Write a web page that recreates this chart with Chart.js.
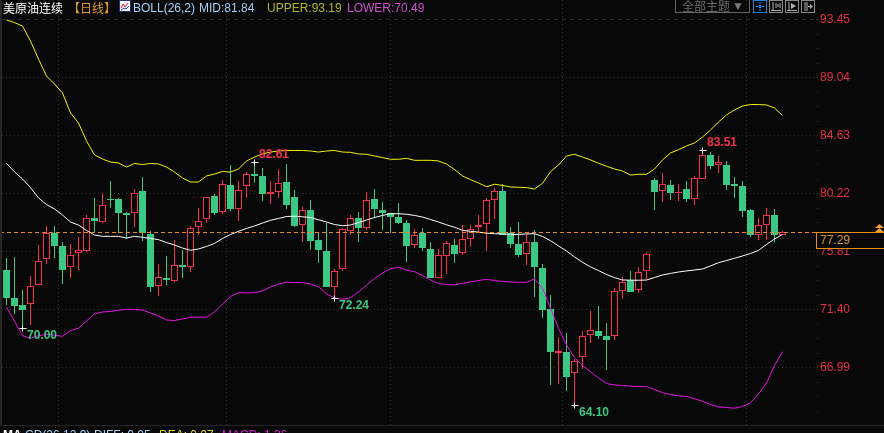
<!DOCTYPE html>
<html lang="zh">
<head>
<meta charset="UTF-8">
<title>美原油连续 日线</title>
<script src="https://cdn.jsdelivr.net/npm/chart.js"></script>
<style>
    html, body { margin: 0; padding: 0; background: #080808; overflow: hidden; }
    body { width: 884px; height: 433px; position: relative; font: 12px "Liberation Sans", "Noto Sans CJK SC", sans-serif; }
    canvas { position: absolute; left: 0; top: 0; }
    .t { position: absolute; white-space: nowrap; line-height: 14px; }
    .cjk { font-family: "Noto Sans CJK SC", sans-serif; }
    #edge { position: absolute; left: 0; top: 0; width: 2px; height: 425px; background: #262626; }
    #rule { position: absolute; left: 0; top: 425px; width: 884px; height: 1px; background: #262626; }
    #theme { position: absolute; left: 675px; top: -1px; width: 73px; height: 12px; border: 1px solid #666; color: #6c6c6c; }
    #lastbox { position: absolute; left: 816px; top: 232px; width: 68px; height: 15px; border: 1px solid #e8901c; border-right: 0; background: #080808; color: #c89a3c; line-height: 15px; padding-left: 3px; box-sizing: content-box; }
    svg { position: absolute; }
</style>
</head>
<body>
<canvas id="kline" width="884" height="433"></canvas>
<div id="edge"></div>
<div id="rule"></div>

<div class="t cjk" style="left:3px;top:1px;color:#ffffff">美原油连续</div>
<div class="t cjk" style="left:68px;top:1px;color:#e09a30">【日线】</div>
<svg style="left:119px;top:0" width="12" height="13"><rect x="0.5" y="0.5" width="11" height="11" fill="#f4f4f4" stroke="#20307a"/><polyline points="2,8 4,4 6,7 9,3" fill="none" stroke="#d02030"/><polyline points="2,10 5,8 7,9 10,6" fill="none" stroke="#2040c0"/></svg>
<div class="t" style="left:133px;top:1px;color:#a4d0f8">BOLL(26,2)</div>
<div class="t" style="left:199px;top:1px;color:#a4d0f8">MID:81.84</div>
<div class="t" style="left:267px;top:1px;color:#b4b428">UPPER:93.19</div>
<div class="t" style="left:347px;top:1px;color:#d050d0">LOWER:70.49</div>

<div id="theme"><span class="t cjk" style="left:6px;top:-1px">全部主题</span><span class="t" style="left:56px;top:-1px;color:#7a7a7a">▼</span></div>
<svg style="left:753px;top:0" width="14" height="13"><rect x="0.5" y="0.5" width="13" height="12" fill="none" stroke="#1a7fd0"/><path d="M7 2v2M7 9v2M3 6.5h2M9 6.5h2M6 5.5h2v2H6z" stroke="#1a8fe8" fill="none"/></svg>
<svg style="left:769px;top:0" width="14" height="13"><rect x="0.5" y="0.5" width="13" height="12" fill="none" stroke="#8a8a8a"/><path d="M4 2v8M2 10.5h10M7 3v5M9 4v3M11 3v5" stroke="#b0b0b0" fill="none"/></svg>
<svg style="left:785px;top:0" width="14" height="13"><rect x="0.5" y="0.5" width="13" height="12" fill="none" stroke="#8a8a8a"/><path d="M4 2v8M2 10.5h10" stroke="#b0b0b0" fill="none"/><path d="M6 3l5 3-5 3z" fill="#b0b0b0"/></svg>
<svg style="left:801px;top:0" width="14" height="13"><rect x="0.5" y="0.5" width="13" height="12" fill="none" stroke="#8a8a8a"/><path d="M4 2v9M6 2v9M7 6.5h4" stroke="#b0b0b0" fill="none"/><path d="M9 4l3 2.5-3 2.5z" fill="#b0b0b0"/></svg>

<div id="lastbox">77.29</div>
<svg style="left:875px;top:224px" width="9" height="9"><path d="M4.5 0L9 4H0z M4.5 4L9 8H0z" fill="#f0a030"/></svg>

<div class="t" style="left:3px;top:428px;color:#ffffff;font-weight:bold">MA</div>
<div class="t" style="left:25px;top:428px;color:#a4d0f8">CD(26,12,9)</div>
<div class="t" style="left:94px;top:428px;color:#a4d0f8">DIFF: 0.05</div>
<div class="t" style="left:159px;top:428px;color:#d8d820">DEA: 0.07</div>
<div class="t" style="left:222px;top:428px;color:#d020d0">MACD: 1.36</div>

<script>
// daily candles, oldest first
const opens = [74.39,72.26,71.73,71.78,73.22,75.20,77.20,76.21,74.59,75.65,
    75.86,78.34,78.06,79.78,79.76,78.72,78.70,80.39,77.12,73.15,
    73.78,73.53,74.74,74.64,77.63,78.24,80.01,78.82,80.85,79.05,
    80.80,81.69,81.53,80.14,80.34,81.08,79.94,77.83,78.95,76.67,
    75.83,73.12,74.49,77.38,78.31,77.57,79.75,78.94,78.74,78.41,
    77.93,76.30,77.19,75.95,73.80,75.47,76.28,75.70,76.76,77.67,
    77.85,79.72,80.38,77.17,76.35,75.56,76.51,74.53,71.39,68.09,
    68.15,66.57,67.74,69.41,69.74,69.36,69.39,72.76,73.59,72.83,
    74.28,81.20,80.42,80.82,80.27,80.52,79.81,81.33,83.10,82.34,
    82.37,80.92,80.77,78.95,77.07,77.83,78.57,77.05];
const closes = [72.28,71.68,71.35,73.15,75.05,77.23,76.21,74.39,75.50,75.88,
    78.32,78.14,79.30,79.73,78.75,78.59,80.22,77.17,73.12,73.83,
    73.65,74.74,74.64,77.55,78.09,79.91,78.75,80.90,79.02,80.44,
    81.66,81.56,80.16,80.29,80.98,79.35,77.73,78.92,76.62,75.93,
    73.12,74.29,77.48,78.32,77.60,79.67,79.04,78.71,78.43,77.95,
    76.23,77.01,76.08,73.80,75.49,76.41,75.62,76.71,77.52,77.77,
    79.67,80.36,77.06,76.38,75.52,76.48,74.63,71.36,68.17,68.20,
    66.27,67.44,69.34,69.79,69.39,69.08,72.76,73.44,72.71,74.20,
    75.57,80.32,80.90,80.24,80.34,79.78,81.36,83.10,82.29,82.57,
    80.85,80.80,78.87,77.07,77.78,78.54,77.05,77.29];
const highs = [75.27,75.35,72.87,73.93,76.29,77.73,77.73,76.49,76.36,76.87,
    78.54,79.86,80.24,81.13,79.86,78.80,80.52,81.43,77.35,74.84,
    75.45,76.67,75.91,77.73,79.10,79.96,80.16,81.23,82.37,81.15,
    81.84,82.61,82.14,81.15,82.07,82.45,80.47,79.18,79.71,77.20,
    77.99,74.44,77.58,78.57,78.79,80.28,80.54,79.55,78.74,79.47,
    78.15,77.47,77.55,76.51,75.97,76.58,76.73,77.77,77.77,78.53,
    79.83,80.59,80.89,77.62,78.03,77.09,77.42,74.83,72.48,69.29,
    69.59,67.64,69.74,71.24,71.64,70.35,72.99,73.85,74.30,74.61,
    75.65,81.41,81.76,81.23,80.92,81.15,81.53,83.51,83.33,83.05,
    82.65,81.46,81.15,79.02,78.34,79.08,79.02,77.33];
const lows = [71.73,71.04,70.00,70.21,73.22,74.84,75.27,73.32,73.78,74.39,
    75.76,77.17,77.99,79.10,77.23,76.77,77.66,76.59,72.72,72.41,
    73.25,73.48,73.80,74.26,77.07,77.99,78.57,78.64,78.87,78.11,
    79.89,81.03,79.63,79.40,79.89,79.05,77.66,76.54,76.01,74.94,
    73.12,72.24,74.34,77.07,76.51,77.44,78.31,77.42,77.22,77.87,
    74.99,76.08,75.82,73.80,73.80,74.10,74.91,75.52,76.13,77.22,
    75.82,78.28,77.06,76.05,75.39,74.76,72.35,70.76,65.64,65.71,
    65.21,64.10,66.88,68.85,69.16,66.78,69.06,72.20,72.71,72.61,
    73.69,78.95,79.58,79.71,79.63,79.58,79.33,81.33,82.04,81.76,
    80.47,79.86,78.44,76.92,76.67,76.67,76.54,77.02];

// BOLL(26,2)
const upper = [93.39,93.19,92.93,91.79,90.42,89.13,88.52,87.84,86.32,85.56,
    84.19,83.13,82.82,82.59,82.52,82.21,82.48,82.40,82.48,82.44,
    82.21,81.83,81.38,81.07,81.07,81.53,81.68,81.87,81.83,82.06,
    82.67,82.97,83.20,83.35,83.43,83.47,83.47,83.47,83.43,83.35,
    83.43,83.47,83.35,83.33,83.20,83.18,83.05,82.93,82.80,82.80,
    82.87,82.72,82.72,82.72,82.67,82.44,82.02,81.53,81.25,81.00,
    80.71,80.90,80.81,80.69,80.67,80.65,80.54,80.97,81.86,82.36,
    83.05,83.18,82.97,82.75,82.50,82.27,82.06,81.91,81.60,81.66,
    81.66,82.06,82.75,83.28,83.53,83.81,84.04,84.49,85.03,85.63,
    86.17,86.55,86.85,86.96,86.96,86.93,86.70,86.13];
const mid = [82.49,81.84,81.30,80.65,79.86,79.36,79.02,78.56,78.03,77.80,
    77.39,77.04,76.94,76.94,76.94,76.81,76.94,76.87,76.78,76.69,
    76.47,76.28,76.05,75.88,75.98,76.17,76.40,76.78,77.08,77.32,
    77.54,77.73,77.95,78.16,78.30,78.45,78.47,78.43,78.37,78.20,
    78.03,77.84,77.75,77.80,77.99,78.18,78.37,78.53,78.66,78.66,
    78.62,78.53,78.41,78.22,78.03,77.82,77.63,77.40,77.32,77.26,
    77.18,77.14,77.12,77.09,77.09,77.12,77.14,76.93,76.61,76.21,
    75.83,75.37,74.97,74.62,74.34,74.04,73.80,73.62,73.61,73.60,
    73.62,73.81,74.00,74.12,74.23,74.31,74.38,74.46,74.69,74.94,
    75.10,75.27,75.45,75.64,75.87,76.32,76.74,77.08];
const lower = [71.55,70.49,69.39,69.19,69.39,69.48,69.43,69.34,69.78,69.95,
    70.50,71.03,71.19,71.23,71.32,71.39,71.38,71.33,71.11,70.88,
    70.58,70.54,70.66,70.79,70.79,70.79,71.19,71.80,72.37,72.66,
    72.63,72.66,72.78,73.09,73.32,73.45,73.43,73.42,73.32,73.11,
    72.56,72.25,72.15,72.27,72.71,73.24,73.74,74.15,74.48,74.59,
    74.38,74.25,73.96,73.62,73.35,73.28,73.24,73.37,73.48,73.58,
    73.67,73.58,73.51,73.47,73.45,73.45,73.70,73.01,71.47,69.95,
    68.68,67.73,67.12,66.65,66.17,65.75,65.64,65.60,65.55,65.52,
    65.51,65.30,65.05,64.92,64.82,64.76,64.60,64.40,64.15,63.97,
    63.93,63.87,64.00,64.29,64.95,65.79,67.12,68.17];

const priceTicks = [93.45, 89.04, 84.63, 80.22, 75.81, 71.40, 66.99];
const monthStarts = [17, 38, 58, 81];
const lastPrice = 77.29;
const markIndex = [2, 31, 41, 71, 87];
const markValue = [70.00, 82.61, 72.24, 64.10, 83.51];

const RED = "#f4304c", GREEN = "#3bc884", BG = "#080808", GRID = "#2e2e2e";

const isUp = opens.map((o, i) => closes[i] >= o);
const wicks = highs.map((h, i) => ({ x: i, y: [lows[i], h] }));
const bodies = opens.map((o, i) => ({ x: i, y: [o, closes[i]] }));
const asLine = arr => arr.map((v, i) => ({ x: i, y: v }));
const lineSet = (arr, color) => ({
    type: "line", data: asLine(arr), borderColor: color, borderWidth: 1,
    pointRadius: 0, tension: 0, order: 1
});

// snap the candles to whole pixels so the hollow ones stay sharp
const snapBars = {
    id: "snapBars",
    beforeDatasetsDraw(chart) {
        chart.getSortedVisibleDatasetMetas().forEach(meta => {
            if (meta.type !== "bar") return;
            meta.data.forEach(bar => {
                const top = Math.round(Math.min(bar.y, bar.base));
                const bot = Math.round(Math.max(bar.y, bar.base));
                bar.y = top;
                bar.base = bot === top ? top + 1 : bot;
                bar.height = bar.base - bar.y;
            });
        });
    }
};

// last price line, high/low marks and the little ticks along the price axis
const overlay = {
    id: "overlay",
    afterDatasetsDraw(chart) {
        const { ctx, scales: { x, y }, chartArea } = chart;
        ctx.save();
        ctx.strokeStyle = "#e8881c";
        ctx.lineWidth = 1;
        ctx.setLineDash([4, 3]);
        const py = Math.ceil(y.getPixelForValue(lastPrice)) + 0.5;
        ctx.beginPath();
        ctx.moveTo(0, py);
        ctx.lineTo(chartArea.right + 1, py);
        ctx.stroke();
        ctx.setLineDash([]);

        ctx.fillStyle = "#3a3a3a";
        const step = (priceTicks[0] - priceTicks[1]) / 4;
        for (let v = priceTicks[0]; v > y.min; v -= step) {
            ctx.fillRect(chartArea.right + 2, Math.round(y.getPixelForValue(v)), 1, 1);
        }

        ctx.font = "bold 12px 'Liberation Sans'";
        ctx.textBaseline = "middle";
        markIndex.forEach((idx, k) => {
            const mx = Math.floor(x.getPixelForValue(idx)) + 0.5;
            const my = Math.round(y.getPixelForValue(markValue[k])) + 0.5;
            const isHigh = markValue[k] === highs[idx];
            ctx.strokeStyle = "#f4f4f4";
            ctx.beginPath();
            ctx.moveTo(mx - 3, my); ctx.lineTo(mx + 4, my);
            ctx.moveTo(mx, my - 3); ctx.lineTo(mx, my + 3);
            ctx.stroke();
            ctx.fillStyle = isHigh ? RED : GREEN;
            ctx.fillText(markValue[k].toFixed(2), mx + 4.5, my + (isHigh ? -7.5 : 7));
        });
        ctx.restore();
    }
};

new Chart(document.getElementById("kline"), {
    type: "bar",
    data: {
        datasets: [
            lineSet(mid, "#ffffff"),
            lineSet(upper, "#f4f400"),
            lineSet(lower, "#e810e8"),
            {
                data: bodies, order: 2, grouped: false, barThickness: 7, inflateAmount: 0,
                borderSkipped: false, borderWidth: 1,
                backgroundColor: isUp.map(u => u ? BG : GREEN),
                borderColor: isUp.map(u => u ? RED : GREEN)
            },
            {
                data: wicks, order: 3, grouped: false, barThickness: 1, inflateAmount: 0,
                borderSkipped: false, borderWidth: 0,
                backgroundColor: isUp.map(u => u ? RED : GREEN)
            }
        ]
    },
    options: {
        responsive: false,
        animation: false,
        events: [],
        layout: { padding: { left: 2, right: 0, top: 0, bottom: 8 } },
        plugins: { legend: { display: false }, tooltip: { enabled: false } },
        scales: {
            x: {
                type: "linear", offset: false, min: -0.5625, max: 101.0625,
                afterBuildTicks: s => { s.ticks = monthStarts.map(v => ({ value: v })); },
                afterFit: s => { s.height = 0; s.paddingLeft = 0; s.paddingRight = 0; },
                ticks: { display: false },
                border: { display: false, dash: [1, 3] },
                grid: { color: GRID, drawTicks: false, tickLength: 0, lineWidth: 1 },
                afterDataLimits: s => { s.min = -0.5625; s.max = 101.0625; }
            },
            y: {
                position: "right", min: 62.596, max: 94.91,
                afterBuildTicks: s => { s.ticks = priceTicks.map(v => ({ value: v })); },
                afterFit: s => { s.width = 69; s.paddingTop = 0; s.paddingBottom = 0; },
                ticks: {
                    color: "#e82c46", padding: 5, autoSkip: false,
                    font: { family: "'Liberation Sans'", size: 12 },
                    callback: v => v.toFixed(2)
                },
                grid: { color: GRID, drawTicks: false, tickLength: 0 },
                border: { display: false, dash: ctx => ctx.index === 0 ? [4, 4] : [1, 3] }
            }
        }
    },
    plugins: [snapBars, overlay]
});
</script>
</body>
</html>
